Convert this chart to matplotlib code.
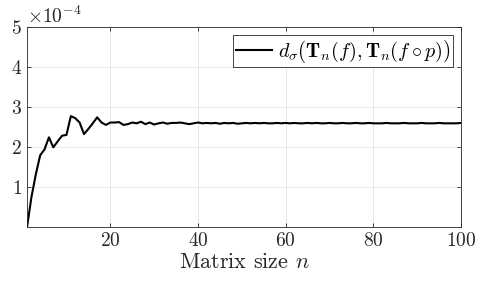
import matplotlib
matplotlib.use("Agg")
import matplotlib.pyplot as plt
from matplotlib.ticker import ScalarFormatter
import numpy as np

plt.rcParams['font.family'] = 'serif'
plt.rcParams['font.serif'] = ['cmr10']
plt.rcParams['mathtext.fontset'] = 'cm'
plt.rcParams['axes.formatter.use_mathtext'] = True

n = list(range(1, 101))
# values in units of 1e-4
d_sigma = [
    0.00, 0.75, 1.32, 1.80, 1.95, 2.25, 2.00, 2.15, 2.29, 2.31,
    2.78, 2.73, 2.62, 2.33, 2.46, 2.60, 2.75, 2.62, 2.56, 2.62,
    2.62, 2.63, 2.56, 2.58, 2.62, 2.60, 2.64, 2.58, 2.62, 2.57,
    2.60, 2.62, 2.59, 2.61, 2.61, 2.62, 2.60, 2.58, 2.60, 2.62,
    2.60, 2.61, 2.60, 2.61, 2.59, 2.61, 2.60, 2.61, 2.59, 2.60,
    2.61, 2.60, 2.61, 2.60, 2.61, 2.60, 2.60, 2.61, 2.60, 2.61,
    2.60, 2.61, 2.60, 2.60, 2.61, 2.60, 2.61, 2.60, 2.60, 2.61,
    2.60, 2.60, 2.61, 2.60, 2.60, 2.61, 2.60, 2.60, 2.61, 2.60,
    2.60, 2.60, 2.61, 2.60, 2.60, 2.60, 2.61, 2.60, 2.60, 2.60,
    2.61, 2.60, 2.60, 2.60, 2.61, 2.60, 2.60, 2.60, 2.60, 2.61,
]
scale = 1e-4
xticks = [20, 40, 60, 80, 100]
yticks = [1, 2, 3, 4, 5]

fig = plt.figure(figsize=(4.79, 2.82), dpi=100)
ax = fig.add_axes([0.0564, 0.194, 0.906, 0.709])
ax.plot(n, np.array(d_sigma) * scale, color='black', lw=1.5,
        label=r'$d_\sigma\left(\mathbf{T}_n(f),\mathbf{T}_n(f\circ p)\right)$')
ax.set_xlim(1, 100)
ax.set_ylim(0, 5 * scale)
ax.set_xticks(xticks)
ax.set_yticks(np.array(yticks) * scale)
fmt = ScalarFormatter(useMathText=True)
fmt.set_powerlimits((-3, 3))
ax.yaxis.set_major_formatter(fmt)
ax.grid(True, color='#e3e3e3', lw=0.6)
ax.set_axisbelow(True)
for s in ax.spines.values():
    s.set_color('#262626')
    s.set_linewidth(0.6)
ax.tick_params(direction='in', top=True, right=True, length=3, width=0.6,
               colors='#262626', labelsize=14, labelcolor='#262626')
ax.yaxis.get_offset_text().set_fontsize(14)
ax.set_xlabel(r'Matrix size $n$', fontsize=16, color='#262626', labelpad=2)
leg = ax.legend(loc='upper right', fontsize=14.5, fancybox=False, framealpha=1,
                edgecolor='#262626', handlelength=1.8, borderpad=0.12,
                handletextpad=0.3, borderaxespad=0.4)
leg.get_frame().set_linewidth(0.6)
fig.savefig('out.png', dpi=100)
